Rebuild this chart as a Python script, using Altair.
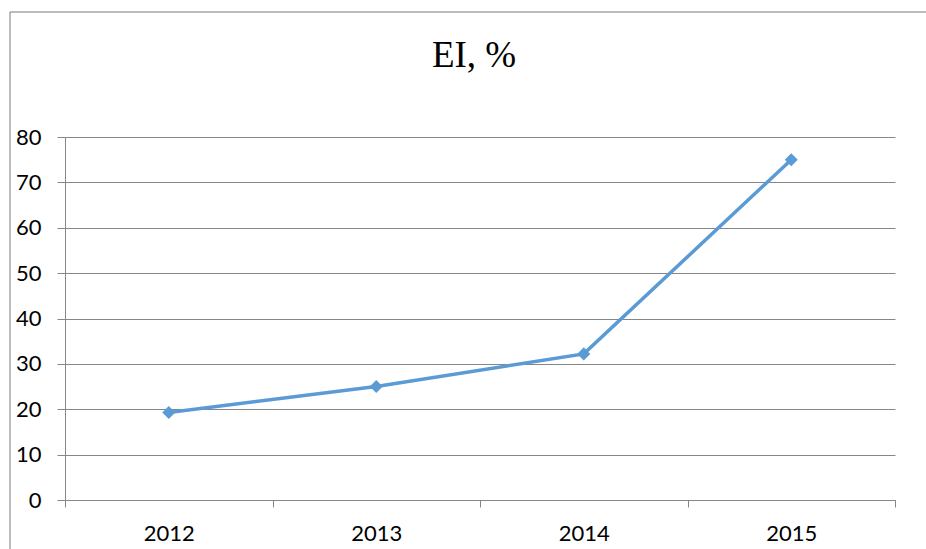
import altair as alt
import pandas as pd

years = ["2012", "2013", "2014", "2015"]
ei_values = [19.3, 25.0, 32.2, 75.0]
y_ticks = [0, 10, 20, 30, 40, 50, 60, 70, 80]

df = pd.DataFrame({"year": years, "ei": ei_values})

GRID = "#868686"
LINE = "#5B9BD5"
LABEL_FONT = "Lato"

x_enc = alt.X(
    "year:O",
    sort=years,
    scale=alt.Scale(type="band", paddingInner=0, paddingOuter=0),
    axis=alt.Axis(
        title=None,
        labelAngle=0,
        labelFont=LABEL_FONT,
        labelFontSize=22,
        labelColor="#000000",
        labelPadding=16,
        tickBand="extent",
        tickSize=7,
        tickColor=GRID,
        domainColor=GRID,
        grid=False,
    ),
)
y_enc = alt.Y(
    "ei:Q",
    scale=alt.Scale(domain=[0, 80], nice=False, zero=True),
    axis=alt.Axis(
        title=None,
        values=y_ticks,
        labelFont=LABEL_FONT,
        labelFontSize=22,
        labelColor="#000000",
        labelPadding=16,
        tickSize=8,
        tickColor=GRID,
        domainColor=GRID,
        gridColor=GRID,
        gridWidth=1,
    ),
)

line = alt.Chart(df).mark_line(
    color=LINE,
    strokeWidth=3.5,
    point=alt.OverlayMarkDef(shape="diamond", size=170, filled=True, color=LINE, opacity=1),
).encode(x=x_enc, y=y_enc)

# chart heading
heading = alt.Chart(pd.DataFrame({"t": ["EI, %"]})).mark_text(
    font="Liberation Serif",
    fontSize=37,
    baseline="alphabetic",
    align="center",
    color="#000000",
).encode(text="t:N", x=alt.value(409), y=alt.value(-70))

# outer chart frame (left and top edges)
frame_left = alt.Chart(pd.DataFrame({"k": [0]})).mark_rule(
    color="#a6a6a6", strokeWidth=1.5
).encode(x=alt.value(-55), y=alt.value(-125), y2=alt.value(420))
frame_top = alt.Chart(pd.DataFrame({"k": [0]})).mark_rule(
    color="#a6a6a6", strokeWidth=1.5
).encode(x=alt.value(-55), x2=alt.value(870), y=alt.value(-125))

chart = (
    alt.layer(frame_left, frame_top, line, heading)
    .properties(
        width=830,
        height=363,
        autosize=alt.AutoSizeParams(type="none"),
        padding={"left": 65, "top": 137, "right": 31, "bottom": 49},
        background="#ffffff",
    )
    .configure_view(stroke=None)
)

chart.save("out.html", embed_options={"renderer": "svg", "actions": False})
